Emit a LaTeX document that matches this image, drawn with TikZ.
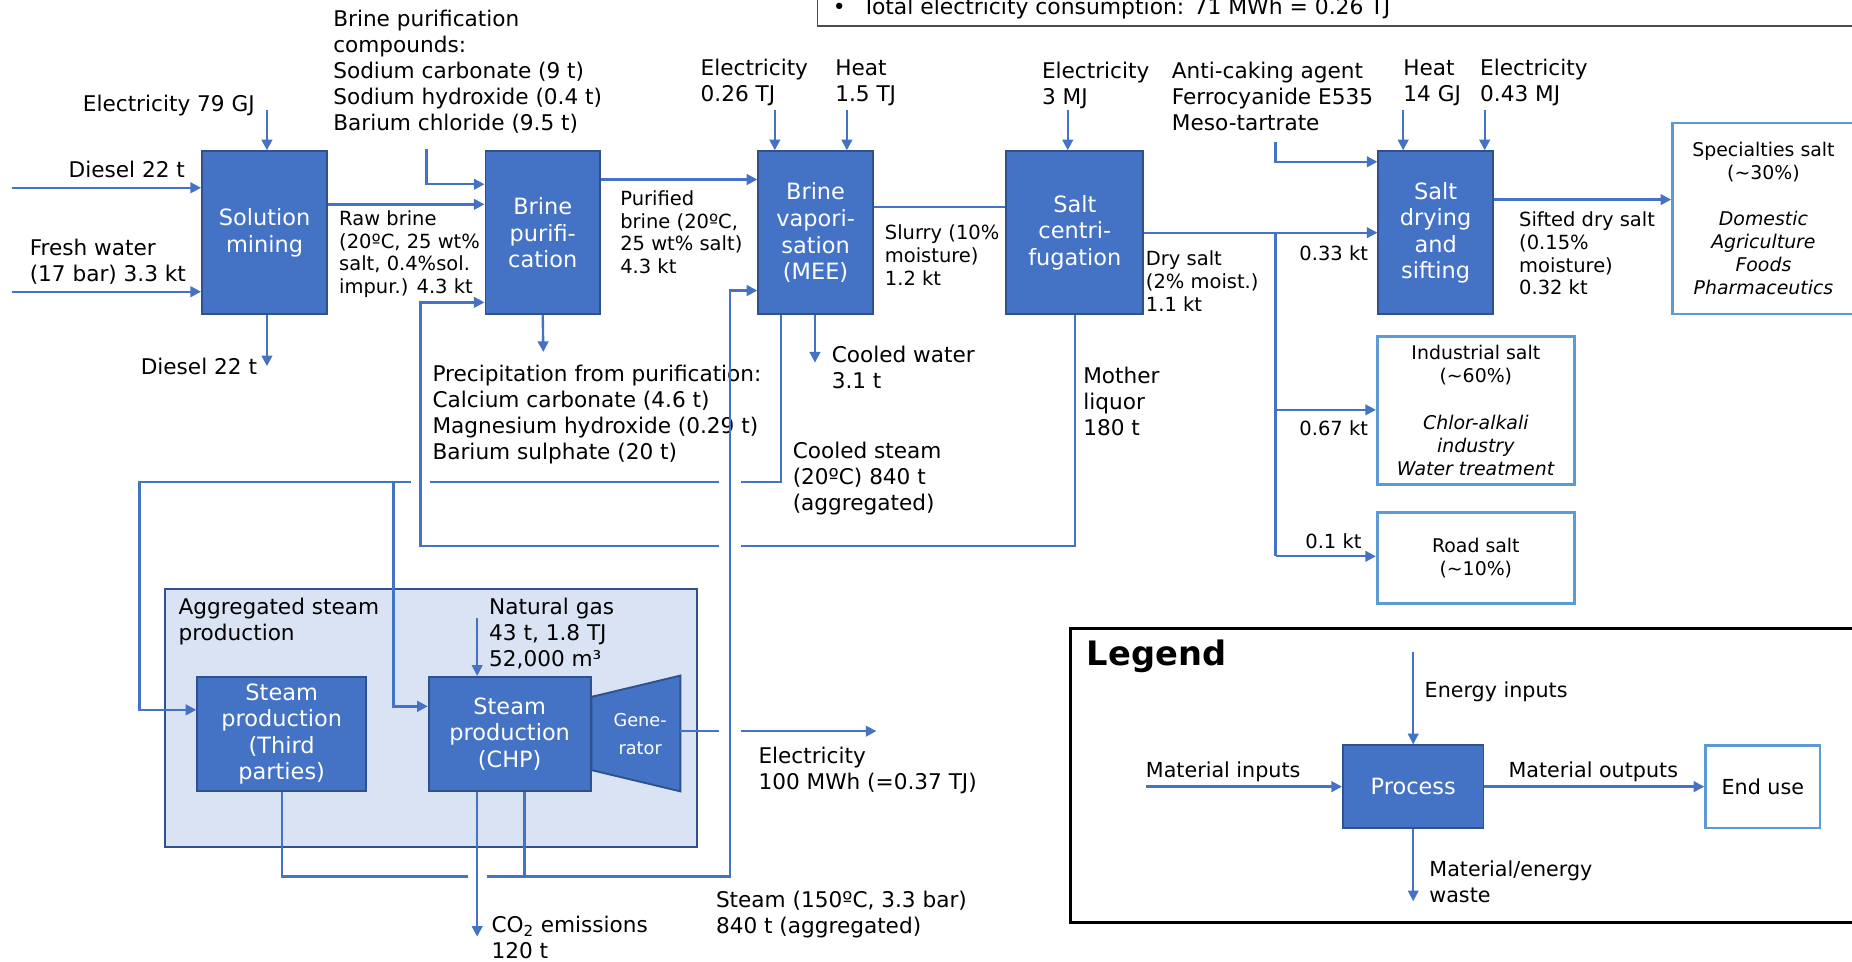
\documentclass[tikz,border=0pt]{standalone}
\usepackage{fontspec}
\setmainfont{DejaVu Sans}
\usetikzlibrary{arrows.meta,positioning}

\definecolor{procfill}{HTML}{4472C4}
\definecolor{procline}{HTML}{2F528F}
\definecolor{flowblue}{HTML}{4472C4}
\definecolor{useline}{HTML}{5B9BD5}
\definecolor{aggfill}{HTML}{DAE3F3}

\begin{document}
\begin{tikzpicture}[x=1pt,y=-1pt,
  proc/.style={draw=procline,fill=procfill,line width=1.6pt,text=white,inner sep=0pt,align=center,font=\fontsize{19}{22.5}\selectfont},
  enduse/.style={draw=useline,fill=white,line width=2.2pt,inner sep=0pt,align=center,font=\fontsize{16}{19.5}\selectfont},
  lbl/.style={anchor=north west,inner sep=0pt,align=left,font=\fontsize{18.3}{22}\selectfont},
  lblsm/.style={anchor=north west,inner sep=0pt,align=left,font=\fontsize{16.5}{19.3}\selectfont},
  leg/.style={anchor=north west,inner sep=0pt,align=left,font=\fontsize{17.5}{22}\selectfont},
  flow/.style={draw=flowblue,line width=2pt},
  arr/.style={flow,-{Triangle[length=9pt,width=9pt]}}]
  \clip (0,0) rectangle (1568,814);

  % total box at the top
  \draw[line width=1.2pt,black!70] (692,-5) -- (692,22) -- (1580,22);
  \node[anchor=base west,inner sep=0pt,font=\fontsize{18.5}{20}\selectfont] (total) at (705,12) {•\hspace{14pt}Total electricity consumption: 71 MWh = 0.26 TJ};

  % steam production group
  \draw[draw=procline,fill=aggfill,line width=1.6pt] (140,499) rectangle (590,717);
  \node[lbl] (aggtitle) at (151,506) {Aggregated steam\\production};

  % process boxes
  \node[proc,minimum width=106pt,minimum height=138pt] (mine) at (224,197) {Solution\\mining};
  \node[proc,minimum width=97pt,minimum height=138pt] (purif) at (459.5,197) {Brine\\purifi-\\cation};
  \node[proc,minimum width=97pt,minimum height=138pt] (vapor) at (690.5,197) {Brine\\vapori-\\sation\\(MEE)};
  \node[proc,minimum width=116pt,minimum height=138pt] (centri) at (910,197) {Salt\\centri-\\fugation};
  \node[proc,minimum width=97pt,minimum height=138pt] (dry) at (1215.5,197) {Salt\\drying\\and\\sifting};
  \node[proc,minimum width=143pt,minimum height=97pt] (third) at (238.5,621.5) {Steam\\production\\(Third\\parties)};
  \node[proc,minimum width=137pt,minimum height=97pt] (chp) at (431.5,621.5) {Steam\\production\\(CHP)};
  \draw[draw=procline,fill=procfill,line width=1.6pt] (chp.east |- 0,590) -- (576,572) -- (576,670) -- (chp.east |- 0,652) -- cycle;
  \node[text=white,align=center,inner sep=0pt,font=\fontsize{15}{23}\selectfont] (gentext) at (542,621.5) {Gene-\\rator};

  % end uses
  \node[enduse,minimum width=154pt,minimum height=162pt] (special) at (1493,185) {Specialties salt\\(\textasciitilde30\%)\\[19.5pt]\textit{Domestic}\\\textit{Agriculture}\\\textit{Foods}\\\textit{Pharmaceutics}};
  \node[enduse,minimum width=167pt,minimum height=125pt] (industrial) at (1249.5,347.5) {Industrial salt\\(\textasciitilde60\%)\\[19.5pt]\textit{Chlor-alkali}\\\textit{industry}\\\textit{Water treatment}};
  \node[enduse,minimum width=167pt,minimum height=77pt] (road) at (1249.5,472.5) {Road salt\\(\textasciitilde10\%)};

  % labels
  \node[lbl] (elmine) at (70,80) {Electricity 79 GJ};
  \node[lbl] (dieselin) at (58,136) {Diesel 22 t};
  \node[lbl] (water) at (25,202) {Fresh water\\(17 bar) 3.3 kt};
  \node[lbl] (dieselout) at (119,303) {Diesel 22 t};
  \node[lbl] (compounds) at (282,8) {Brine purification\\compounds:\\Sodium carbonate (9 t)\\Sodium hydroxide (0.4 t)\\Barium chloride (9.5 t)};
  \node[lblsm] (rawbrine) at (287,178) {Raw brine\\(20ºC, 25 wt\%\\salt, 0.4\%sol.\\impur.) 4.3 kt};
  \node[lbl] (precip) at (366,309) {Precipitation from purification:\\Calcium carbonate (4.6 t)\\Magnesium hydroxide (0.29 t)\\Barium sulphate (20 t)};
  \node[lblsm] (purbrine) at (525,161) {Purified\\brine (20ºC,\\25 wt\% salt)\\4.3 kt};
  \node[lbl] (elvap) at (593,50) {Electricity\\0.26 TJ};
  \node[lbl] (heatvap) at (707,50) {Heat\\1.5 TJ};
  \node[lblsm] (slurry) at (749,190) {Slurry (10\%\\moisture)\\1.2 kt};
  \node[lbl] (coolwater) at (704,293) {Cooled water\\3.1 t};
  \node[lbl] (coolsteam) at (671,374) {Cooled steam\\(20ºC) 840 t\\(aggregated)};
  \node[lbl] (elcen) at (882,52) {Electricity\\3 MJ};
  \node[lbl] (liquor) at (917,311) {Mother\\liquor\\180 t};
  \node[lblsm] (drysalt) at (970,212) {Dry salt\\(2\% moist.)\\1.1 kt};
  \node[lblsm] (q33) at (1100,208) {0.33 kt};
  \node[lblsm] (q67) at (1100,356) {0.67 kt};
  \node[lblsm] (q10) at (1105,452) {0.1 kt};
  \node[lbl] (anticake) at (992,52) {Anti-caking agent\\Ferrocyanide E535\\Meso-tartrate};
  \node[lbl] (heatdry) at (1188,50) {Heat\\14 GJ};
  \node[lbl] (eldry) at (1253,50) {Electricity\\0.43 MJ};
  \node[lblsm] (sifted) at (1286,179) {Sifted dry salt\\(0.15\%\\moisture)\\0.32 kt};
  \node[lbl] (gas) at (414,506) {Natural gas\\43 t, 1.8 TJ\\52,000 m³};
  \node[lbl] (elout) at (642,632) {Electricity\\100 MWh (=0.37 TJ)};
  \node[lbl] (steamout) at (606,754) {Steam (150ºC, 3.3 bar)\\840 t (aggregated)};
  \node[lbl] (co2) at (416,775) {CO\textsubscript{2} emissions\\120 t};

  % free ends
  \coordinate (elmineA) at (226,93);
  \coordinate (dieselA) at (10,159);
  \coordinate (waterA) at (10,247);
  \coordinate (dieselB) at (226,310);
  \coordinate (compA) at (361,126);
  \coordinate (precipA) at (460,298);
  \coordinate (elvapA) at (656,93);
  \coordinate (heatvapA) at (717,93);
  \coordinate (cwA) at (690,307);
  \coordinate (elcenA) at (904,93);
  \coordinate (antiA) at (1080,120);
  \coordinate (heatdryA) at (1188,93);
  \coordinate (eldryA) at (1257,93);
  \coordinate (gasA) at (404,523);
  \coordinate (co2A) at (404,793);
  \coordinate (eloutA) at (742,619);

  % solution mining
  \draw[arr] (elmineA) -- (elmineA |- mine.north);
  \draw[arr] (dieselA) -- (dieselA -| mine.west);
  \draw[arr] (waterA) -- (waterA -| mine.west);
  \draw[arr] (dieselB |- mine.south) -- (dieselB);
  \draw[arr] (mine.east |- 0,173) -- (purif.west |- 0,173);
  % purification
  \draw[arr] (compA) -- (361,156) -- (purif.west |- 0,156);
  \draw[arr] (purif.south) -- (precipA);
  \draw[arr] (purif.east |- 0,152) -- (vapor.west |- 0,152);
  % vaporisation
  \draw[arr] (elvapA) -- (elvapA |- vapor.north);
  \draw[arr] (heatvapA) -- (heatvapA |- vapor.north);
  \draw[flow] (vapor.east |- 0,175) -- (centri.west |- 0,175);
  \draw[arr] (cwA |- vapor.south) -- (cwA);
  % centrifugation
  \draw[arr] (elcenA) -- (elcenA |- centri.north);
  \draw[arr] (centri.east |- 0,197) -- (dry.west |- 0,197);
  \draw[flow] (1080,197) -- (1080,471);
  \draw[arr] (1080,347) -- (industrial.west |- 0,347);
  \draw[arr] (1080,471) -- (road.west |- 0,471);
  % drying
  \draw[arr] (antiA) -- (1080,137) -- (dry.west |- 0,137);
  \draw[arr] (heatdryA) -- (heatdryA |- dry.north);
  \draw[arr] (eldryA) -- (eldryA |- dry.north);
  \draw[arr] (dry.east |- 0,169) -- (special.west |- 0,169);

  % cooled steam back to steam production
  \draw[flow] (661,0 |- vapor.south) -- (661,408) -- (627,408);
  \draw[flow] (609,408) -- (364,408);
  \draw[arr] (348,408) -- (118,408) -- (118,601) -- (third.west |- 0,601);
  \draw[arr] (333,408) -- (333,598) -- (chp.west |- 0,598);
  % mother liquor
  \draw[flow] (centri.south) -- (910,462) -- (627,462);
  \draw[arr] (609,462) -- (356,462) -- (356,256) -- (purif.west |- 0,256);
  % steam to vaporisation
  \draw[flow] (third.south) -- (238.5,742) -- (396,742);
  \draw[arr] (412,742) -- (618,742) -- (618,246) -- (vapor.west |- 0,246);
  \draw[flow] (444,0 |- chp.south) -- (444,742);
  \draw[arr] (co2A |- chp.south) -- (co2A);
  \draw[arr,line width=1.5pt] (gasA) -- (gasA |- chp.north);
  \draw[flow] (576,619) -- (609,619);
  \draw[arr] (627,619) -- (eloutA);

  % legend
  \draw[line width=2.5pt] (906,532) rectangle (1590,781);
  \node[anchor=north west,inner sep=0pt,font=\fontsize{28.5}{30}\selectfont\bfseries] (legtitle) at (920,542) {Legend};
  \node[proc,minimum width=119pt,minimum height=70pt] (legproc) at (1196.5,666) {Process};
  \node[enduse,minimum width=97pt,minimum height=70pt,font=\fontsize{17.5}{20}\selectfont] (leguse) at (1492.5,666) {End use};
  \node[leg] (legenergy) at (1206,577) {Energy inputs};
  \node[leg] (legmatin) at (970,645) {Material inputs};
  \node[leg] (legmatout) at (1277,645) {Material outputs};
  \node[leg] (legwaste) at (1210,729) {Material/energy\\waste};
  \coordinate (legE) at (1196.5,552);
  \coordinate (legM) at (970,666);
  \coordinate (legW) at (1196.5,763);
  \draw[arr,line width=1.5pt] (legE) -- (legproc.north);
  \draw[arr] (legM) -- (legproc.west);
  \draw[arr] (legproc.east) -- (leguse.west);
  \draw[arr,line width=1.5pt] (legproc.south) -- (legW);
\end{tikzpicture}
\end{document}
